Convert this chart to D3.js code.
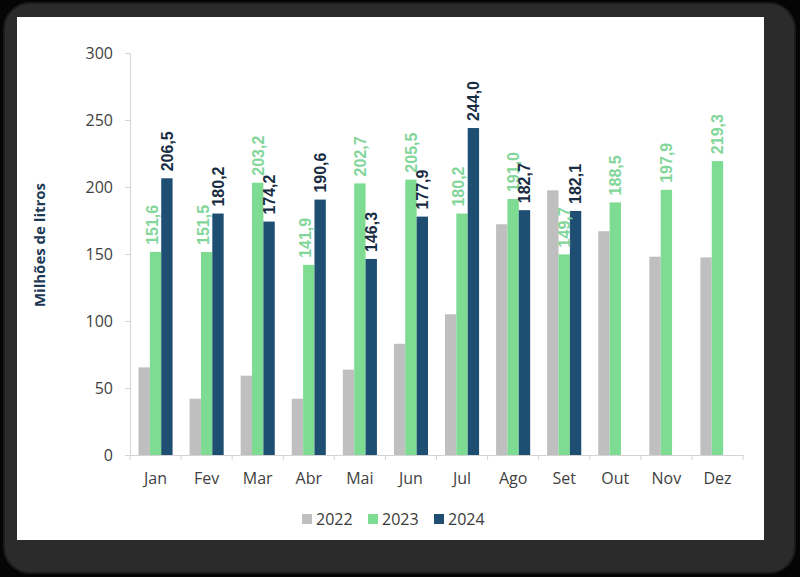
<!DOCTYPE html>
<html>
<head>
<meta charset="utf-8">
<script src="https://cdn.jsdelivr.net/npm/d3@7"></script>
<style>
  html, body { margin: 0; padding: 0; background: #000; }
  svg { display: block; }
</style>
</head>
<body>
<svg id="chart" width="800" height="577"></svg>
<script>
const months = ["Jan","Fev","Mar","Abr","Mai","Jun","Jul","Ago","Set","Out","Nov","Dez"];
const years = ["2022","2023","2024"];
const v2022 = [65.4, 42.0, 59.2, 42.0, 63.7, 83.0, 105.0, 172.2, 197.5, 167.0, 148.0, 147.5];
const v2023 = [151.6, 151.5, 203.2, 141.9, 202.7, 205.5, 180.2, 191.0, 149.7, 188.5, 197.9, 219.3];
const v2024 = [206.5, 180.2, 174.2, 190.6, 146.3, 177.9, 244.0, 182.7, 182.1, null, null, null];
const yTicks = [0, 50, 100, 150, 200, 250, 300];
const yTitle = "Milhões de litros";

const colors = { "2022": "#bfbfbf", "2023": "#7ddc91", "2024": "#1f4e73" };
const labelColors = { "2023": "#82d699", "2024": "#182c42" };
const labeled = { "2022": false, "2023": true, "2024": true };
const seriesVals = { "2022": v2022, "2023": v2023, "2024": v2024 };

const svg = d3.select("#chart");

// frame
svg.append("rect").attr("x", 0).attr("y", 0).attr("width", 800).attr("height", 577).attr("fill", "#050505");
svg.append("rect").attr("x", 4).attr("y", 3).attr("width", 791).attr("height", 570).attr("rx", 26)
  .attr("fill", "#2b2b2b").attr("stroke", "#1b1b1b").attr("stroke-width", 2);
svg.append("rect").attr("x", 17).attr("y", 17).attr("width", 747).attr("height", 523).attr("fill", "#ffffff");

const mLeft = 130, mRight = 743, mTop = 53, mBottom = 455;

const x0 = d3.scaleBand().domain(months).range([mLeft, mRight]).padding(0);
const x1 = d3.scaleBand().domain(years).range([8.5, x0.bandwidth() - 8.5]).padding(0);
const y = d3.scaleLinear().domain([0, 300]).range([mBottom, mTop]);

const fmt = v => d3.format(".1f")(v).replace(".", ",");

// y axis
const yAxis = svg.append("g").attr("transform", `translate(${mLeft},0)`)
  .call(d3.axisLeft(y).tickValues(yTicks).tickSize(5).tickPadding(12));
yAxis.select(".domain").attr("stroke", "#d4d4d4");
yAxis.selectAll(".tick line").attr("stroke", "#d4d4d4");
yAxis.selectAll(".tick text").attr("font-family", "'Open Sans', sans-serif").attr("font-size", 16)
  .attr("fill", "#3f3f3f");

// x axis
const xAxis = svg.append("g").attr("transform", `translate(0,${mBottom})`)
  .call(d3.axisBottom(x0).tickSize(0).tickPadding(18));
xAxis.select(".domain").attr("stroke", "#d4d4d4");
xAxis.selectAll(".tick text").attr("font-family", "'Open Sans', sans-serif").attr("font-size", 16)
  .attr("fill", "#3f3f3f");
const bounds = months.map(m => x0(m)).concat([x0(months[months.length - 1]) + x0.bandwidth()]);
xAxis.selectAll("line.bt").data(bounds).enter().append("line").attr("class", "bt")
  .attr("x1", d => d).attr("x2", d => d).attr("y1", 0).attr("y2", 5).attr("stroke", "#d4d4d4");

// bars
const rows = [];
years.forEach(yr => {
  seriesVals[yr].forEach((v, i) => {
    if (v !== null) rows.push({ year: yr, month: months[i], value: v, idx: i });
  });
});

svg.append("g").selectAll("rect").data(rows).enter().append("rect")
  .attr("x", d => x0(d.month) + x1(d.year))
  .attr("y", d => y(d.value))
  .attr("width", x1.bandwidth())
  .attr("height", d => y(0) - y(d.value))
  .attr("fill", d => colors[d.year]);

// labels (2023 label nudged left when the 2024 bar beside it is taller)
const nudge = d => (d.year === "2023" && v2024[d.idx] !== null && v2024[d.idx] > d.value + 20 && v2022[d.idx] < d.value - 60) ? -3.5 : 0;
svg.append("g").selectAll("text").data(rows.filter(d => labeled[d.year])).enter().append("text")
  .attr("transform", d => `translate(${x0(d.month) + x1(d.year) + x1.bandwidth() / 2 + 5.8 + nudge(d)},${y(d.value) - 7}) rotate(-90)`)
  .attr("text-anchor", "start")
  .attr("font-family", "'Liberation Sans', Arial, sans-serif")
  .attr("font-weight", "bold")
  .attr("font-size", 16)
  .attr("fill", d => labelColors[d.year])
  .text(d => fmt(d.value));

// y title
svg.append("text")
  .attr("transform", `translate(45,245) rotate(-90)`)
  .attr("text-anchor", "middle")
  .attr("font-family", "'Open Sans', sans-serif")
  .attr("font-weight", "bold")
  .attr("font-size", 15)
  .attr("fill", "#1c3954")
  .text(yTitle);

// legend
const legendX = [302, 368, 434];
const lg = svg.append("g").selectAll("g").data(years).enter().append("g")
  .attr("transform", (d, i) => `translate(${legendX[i]},514)`);
lg.append("rect").attr("width", 10).attr("height", 10).attr("fill", d => colors[d]);
lg.append("text").attr("x", 14).attr("y", 5).attr("dy", "0.36em")
  .attr("font-family", "'Open Sans', sans-serif").attr("font-size", 16).attr("fill", "#3a3a3a")
  .text(d => d);
</script>
</body>
</html>
